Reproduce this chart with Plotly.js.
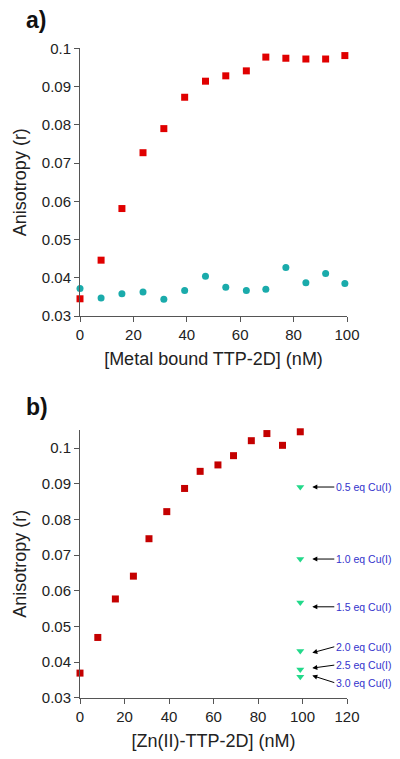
<!DOCTYPE html>
<html>
<head>
<meta charset="utf-8">
<script src="https://cdn.plot.ly/plotly-3.0.1.min.js"></script>
<style>html,body{margin:0;padding:0;background:#fff;}#chart{width:400px;height:759px;}</style>
</head>
<body>
<div id="chart"></div>
<script>
// Panel a data
const aX = [0, 7.9, 15.7, 23.6, 31.4, 39.2, 47, 54.6, 62.3, 69.6, 77.1, 84.6, 92, 99.2];
const aRed = [0.0345, 0.0446, 0.0581, 0.0727, 0.0790, 0.0872, 0.0914, 0.0928, 0.0941, 0.0977, 0.0974, 0.0972, 0.0972, 0.0981];
const aTeal = [0.0372, 0.0347, 0.0358, 0.0363, 0.0344, 0.0367, 0.0404, 0.0375, 0.0367, 0.0370, 0.0427, 0.0387, 0.0411, 0.0385];
// Panel b data
const bX = [0, 8, 15.9, 24, 31, 39, 47, 54, 62, 69, 77, 84, 91, 99];
const bRed = [0.0369, 0.0469, 0.0577, 0.0641, 0.0746, 0.0822, 0.0887, 0.0935, 0.0953, 0.0979, 0.1021, 0.1041, 0.1008, 0.1046];
const cuX = [99, 99, 99, 99, 99, 99];
const cuY = [0.0891, 0.0689, 0.0567, 0.0431, 0.0379, 0.0359];
const cuLabels = ["0.5 eq Cu(I)", "1.0 eq Cu(I)", "1.5 eq Cu(I)", "2.0 eq Cu(I)", "2.5 eq Cu(I)", "3.0 eq Cu(I)"];
const arrowHeadY = [0.0891, 0.0689, 0.0555, 0.0426, 0.0383, 0.0362];
const arrowHeadX = 104.4;
const arrowTailDY = [0, 0, 0, -6, -3, 7];

const font = "Arial, 'Liberation Sans', sans-serif";
const axCommon = {
  showgrid: false, zeroline: false, showline: true, linecolor: '#555', linewidth: 1,
  ticks: 'outside', ticklen: 5, tickcolor: '#555', tickwidth: 1,
  tickfont: {family: font, size: 15, color: '#222'}
};

const traces = [
  {x: aX, y: aRed, type: 'scatter', mode: 'markers', xaxis: 'x', yaxis: 'y',
   marker: {symbol: 'square', size: 7, color: '#e00000'}, cliponaxis: false},
  {x: aX, y: aTeal, type: 'scatter', mode: 'markers', xaxis: 'x', yaxis: 'y',
   marker: {symbol: 'circle', size: 7, color: '#1aabab'}, cliponaxis: false},
  {x: bX, y: bRed, type: 'scatter', mode: 'markers', xaxis: 'x2', yaxis: 'y2',
   marker: {symbol: 'square', size: 7, color: '#c40000'}, cliponaxis: false},
  {x: cuX, y: cuY, type: 'scatter', mode: 'markers', xaxis: 'x2', yaxis: 'y2',
   marker: {symbol: 'triangle-down', size: 7, color: '#22d98a'}, cliponaxis: false}
];

const annotations = [
  {text: '<b>a)</b>', xref: 'paper', yref: 'paper', x: -0.21, y: 1 - 20/759, xanchor: 'left', yanchor: 'middle',
   showarrow: false, font: {family: font, size: 23, color: '#111'}},
  {text: '<b>b)</b>', xref: 'paper', yref: 'paper', x: -0.21, y: 1 - 407/759, xanchor: 'left', yanchor: 'middle',
   showarrow: false, font: {family: font, size: 23, color: '#111'}}
];
for (let i = 0; i < cuLabels.length; i++) {
  annotations.push({
    text: cuLabels[i], xref: 'x2', yref: 'y2', x: arrowHeadX, y: arrowHeadY[i],
    ax: 22, ay: arrowTailDY[i], xanchor: 'left', yanchor: 'middle',
    showarrow: true, arrowhead: 2, arrowsize: 1, arrowwidth: 1, arrowcolor: '#000',
    font: {family: font, size: 10.5, color: '#3333cc'}
  });
}

const layout = {
  width: 400, height: 759,
  margin: {l: 80, r: 53, t: 0, b: 0},
  paper_bgcolor: '#fff', plot_bgcolor: '#fff',
  showlegend: false,
  xaxis: Object.assign({}, axCommon, {anchor: 'y', range: [0, 100], tickvals: [0, 20, 40, 60, 80, 100],
    title: {text: '[Metal bound TTP-2D] (nM)', font: {family: font, size: 18, color: '#222'}, standoff: 10}}),
  yaxis: Object.assign({}, axCommon, {anchor: 'x', domain: [1 - 316/759, 1 - 48.3/759], range: [0.03, 0.1],
    tickvals: [0.03, 0.04, 0.05, 0.06, 0.07, 0.08, 0.09, 0.1], ticktext: ['0.03','0.04','0.05','0.06','0.07','0.08','0.09','0.1'],
    title: {text: 'Anisotropy (r)', font: {family: font, size: 18, color: '#222'}, standoff: 10}}),
  xaxis2: Object.assign({}, axCommon, {anchor: 'y2', range: [0, 120], tickvals: [0, 20, 40, 60, 80, 100, 120],
    title: {text: '[Zn(II)-TTP-2D] (nM)', font: {family: font, size: 18, color: '#222'}, standoff: 10}}),
  yaxis2: Object.assign({}, axCommon, {anchor: 'x2', domain: [1 - 697.7/759, 1 - 430/759], range: [0.03, 0.1051],
    tickvals: [0.03, 0.04, 0.05, 0.06, 0.07, 0.08, 0.09, 0.1], ticktext: ['0.03','0.04','0.05','0.06','0.07','0.08','0.09','0.1'],
    title: {text: 'Anisotropy (r)', font: {family: font, size: 18, color: '#222'}, standoff: 10}}),
  annotations: annotations
};

Plotly.newPlot('chart', traces, layout, {displayModeBar: false, staticPlot: true});
</script>
</body>
</html>
